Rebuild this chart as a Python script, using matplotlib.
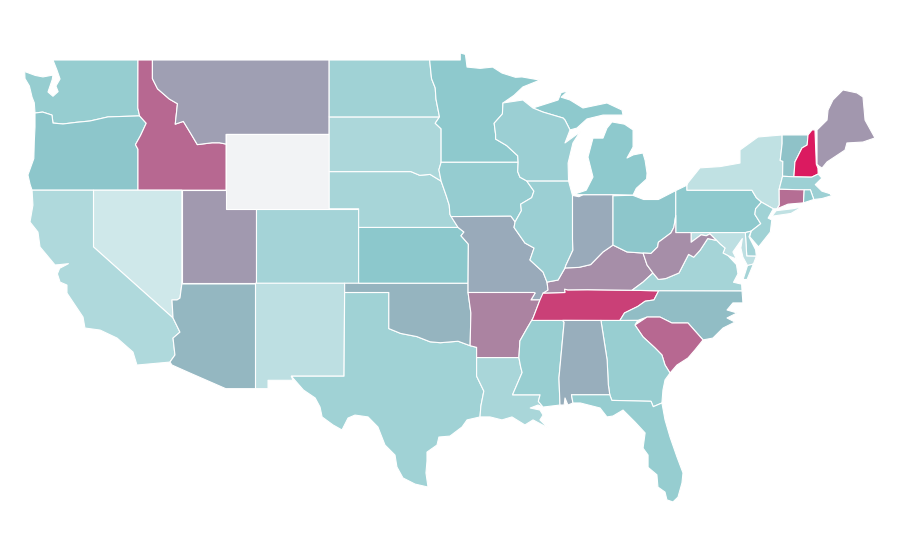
import matplotlib
matplotlib.use("Agg")
import matplotlib.pyplot as plt
from matplotlib.colors import LinearSegmentedColormap, Normalize
from matplotlib.patches import Polygon

# state values (WY has no data)
values = {
 "WA":34,"OR":41,"ID":73,"MT":54,"WY":None,"ND":28,"SD":21,"NE":24,"KS":40,"CO":26,"UT":56,"NV":0,"CA":19,
 "AZ":46,"NM":11,"TX":28,"OK":47,"MN":39,"IA":35,"MO":50,"AR":64,"LA":23,"WI":31,"IL":31,"IN":50,"MI":39,
 "OH":41,"KY":60,"TN":87,"MS":33,"AL":49,"GA":33,"FL":34,"SC":73,"NC":44,"VA":25,"WV":60,"PA":39,"NY":9,
 "VT":42,"NH":100,"ME":57,"MA":30,"CT":71,"RI":40,"NJ":28,"DE":27,"MD":11,
}
scale_stops = [(0.0,"#CFE8EA"),(0.4,"#8CC8CC"),(1.0,"#DB1A60")]
missing_color = "#F2F3F5"

# outlines, (lon, lat); some states have several parts
outlines = {
"WA":[[(-122.8,49),(-117.03,49),(-117.04,46.42),(-116.92,45.995),(-119.07,45.94),(-120.29,45.72),(-121.2,45.65),(-122.12,45.56),(-122.8,45.61),(-122.87,46.04),(-123.5,46.2),(-124.02,46.15),(-124.07,46.7),(-124.22,47.0),(-124.4,47.6),(-124.7,48.0),(-124.72,48.38),(-124.0,48.17),(-123.48,48.09),(-122.8,48.19),(-122.85,47.95),(-123.14,47.28),(-122.8,47.05),(-122.45,47.3),(-122.6,47.6),(-122.32,47.98),(-122.53,48.46)]],
"OR":[[(-124.02,46.15),(-123.5,46.2),(-122.87,46.04),(-122.8,45.61),(-122.12,45.56),(-121.2,45.65),(-120.29,45.72),(-119.07,45.94),(-116.92,45.995),(-116.47,45.6),(-116.85,44.95),(-117.2,44.45),(-117.03,44.2),(-117.03,42),(-124.22,42),(-124.35,42.3),(-124.5,42.82),(-124.1,43.7),(-124.07,44.6),(-124.02,45.4)]],
"ID":[[(-117.03,49),(-116.05,49),(-116.05,48.0),(-115.7,47.45),(-114.9,46.9),(-114.35,46.65),(-114.5,45.55),(-113.95,45.7),(-113.45,45.05),(-113.0,44.45),(-112.0,44.55),(-111.5,44.55),(-111.05,44.48),(-111.05,42),(-117.03,42),(-117.03,44.2),(-117.2,44.45),(-116.85,44.95),(-116.47,45.6),(-116.92,45.995),(-117.04,46.42)]],
"MT":[[(-116.05,49),(-104.05,49),(-104.05,45),(-111.05,45),(-111.05,44.48),(-111.5,44.55),(-112.0,44.55),(-113.0,44.45),(-113.45,45.05),(-113.95,45.7),(-114.5,45.55),(-114.35,46.65),(-114.9,46.9),(-115.7,47.45),(-116.05,48.0)]],
"WY":[[(-111.05,45),(-104.05,45),(-104.05,41),(-111.05,41)]],
"UT":[[(-114.05,42),(-111.05,42),(-111.05,41),(-109.05,41),(-109.05,37),(-114.05,37)]],
"NV":[[(-120.05,42),(-114.05,42),(-114.05,36.96),(-114.18,36.2),(-114.38,36.1),(-114.72,36.1),(-114.65,35.13),(-120.05,38.95)]],
"CA":[[(-124.22,42),(-120.05,42),(-120.05,38.95),(-114.65,35.13),(-114.18,34.37),(-114.65,34.05),(-114.52,33.14),(-114.86,32.76),(-117.1,32.6),(-117.37,33.3),(-118.45,34.05),(-119.6,34.48),(-120.63,34.59),(-120.76,35.18),(-121.85,36.47),(-121.85,36.9),(-122.32,37.06),(-122.5,37.5),(-122.35,37.8),(-121.75,38.05),(-122.35,38.0),(-122.66,37.98),(-123.68,38.95),(-123.82,39.75),(-124.36,40.29),(-124.16,41.2)]],
"AZ":[[(-114.05,36.96),(-109.05,36.96),(-109.05,31.33),(-111.07,31.33),(-113.5,32.17),(-114.72,32.6),(-114.86,32.76),(-114.52,33.14),(-114.65,34.05),(-114.18,34.37),(-114.65,35.13),(-114.72,36.1),(-114.38,36.1),(-114.18,36.2)]],
"CO":[[(-109.05,41),(-102.05,41),(-102.05,37),(-109.05,37)]],
"NM":[[(-109.05,37),(-103.0,37),(-103.04,32),(-106.62,32),(-106.5,31.78),(-108.2,31.78),(-108.2,31.33),(-109.05,31.33)]],
"TX":[[(-103.0,36.5),(-100,36.5),(-100,34.56),(-99.2,34.3),(-98.1,34.13),(-97.2,33.85),(-96.5,33.8),(-95.3,33.88),(-94.48,33.64),(-94.04,33.55),(-94.04,33.0),(-94.04,32.0),(-93.55,31.2),(-93.75,30.4),(-93.81,29.81),(-94.69,29.65),(-95.03,29.27),(-95.85,28.78),(-96.6,28.73),(-96.73,28.3),(-97.41,27.92),(-97.41,27.44),(-97.48,26.8),(-97.34,26.04),(-98.22,26.2),(-99.04,26.53),(-99.45,27.12),(-99.58,27.76),(-100.26,28.3),(-100.74,29.27),(-101.41,29.81),(-102.3,29.91),(-102.77,29.75),(-103.18,29.11),(-103.79,29.38),(-104.53,29.81),(-104.67,30.34),(-105.0,30.83),(-105.8,31.26),(-106.57,31.96),(-106.62,32),(-103.04,32)]],
"OK":[[(-103,37),(-94.62,37),(-94.62,36.5),(-94.43,35.4),(-94.48,33.64),(-95.3,33.88),(-96.5,33.8),(-97.2,33.85),(-98.1,34.13),(-99.2,34.3),(-100,34.56),(-100,36.5),(-103,36.5)]],
"KS":[[(-102.05,40),(-95.3,40),(-94.9,39.75),(-95.1,39.55),(-94.6,39.1),(-94.62,37),(-102.05,37)]],
"NE":[[(-104.05,43),(-98.5,43),(-97.9,42.8),(-97.2,42.85),(-96.45,42.49),(-96.1,41.7),(-95.9,41.2),(-95.85,40.7),(-95.3,40),(-102.05,40),(-102.05,41),(-104.05,41)]],
"SD":[[(-104.05,45.94),(-96.56,45.94),(-96.85,45.6),(-96.45,45.3),(-96.45,43.5),(-96.6,43.1),(-96.45,42.49),(-97.2,42.85),(-97.9,42.8),(-98.5,43),(-104.05,43)]],
"ND":[[(-104.05,49),(-97.23,49),(-97.1,48),(-96.85,47.5),(-96.8,46.9),(-96.56,45.94),(-104.05,45.94)]],
"MN":[[(-97.23,49),(-95.15,49),(-95.15,49.38),(-94.8,49.3),(-94.69,48.62),(-93.8,48.55),(-92.95,48.62),(-92.32,48.3),(-91.4,48.07),(-90.96,48.09),(-89.74,47.92),(-90.9,47.55),(-91.5,47.1),(-92.25,46.69),(-92.29,46.1),(-92.85,45.6),(-92.75,45.0),(-92.75,44.75),(-92.0,44.4),(-91.25,43.85),(-91.22,43.5),(-96.45,43.5),(-96.45,45.3),(-96.85,45.6),(-96.56,45.94),(-96.8,46.9),(-96.85,47.5),(-97.1,48)]],
"IA":[[(-96.45,43.5),(-91.22,43.5),(-91.25,43.0),(-91.1,42.7),(-90.64,42.5),(-90.15,41.95),(-90.3,41.6),(-91.05,41.25),(-91.0,40.9),(-91.43,40.29),(-91.72,40.6),(-95.77,40.58),(-95.85,40.7),(-95.9,41.2),(-96.1,41.7),(-96.45,42.49),(-96.6,43.1)]],
"MO":[[(-95.77,40.58),(-91.72,40.6),(-91.43,40.29),(-91.5,40.0),(-90.76,39.16),(-90.14,38.89),(-90.42,38.25),(-89.53,37.6),(-89.26,37.06),(-89.19,36.63),(-89.74,36.1),(-90.35,36.1),(-90.07,36.47),(-90.15,36.5),(-94.62,36.5),(-94.62,37),(-94.6,39.1),(-95.1,39.55),(-94.9,39.75),(-95.3,40)]],
"AR":[[(-94.62,36.5),(-90.15,36.5),(-90.07,36.47),(-90.35,36.1),(-89.74,36.1),(-90.21,35.13),(-90.3,35.0),(-90.6,34.6),(-91.1,33.9),(-91.17,33.0),(-94.04,33.0),(-94.04,33.55),(-94.48,33.64),(-94.43,35.4)]],
"LA":[[(-94.04,33),(-91.17,33),(-91.05,32.5),(-90.95,32.2),(-91.6,31.0),(-89.73,31.0),(-89.85,30.65),(-89.53,30.34),(-89.87,30.45),(-90.4,30.29),(-89.74,30.18),(-89.53,29.91),(-89.74,29.65),(-89.19,29.22),(-90.21,29.65),(-90.76,29.38),(-91.64,29.81),(-92.32,29.65),(-93.13,29.81),(-93.81,29.81),(-93.75,30.4),(-93.55,31.2),(-94.04,32)]],
"MS":[[(-91.17,33),(-91.1,33.9),(-90.6,34.6),(-90.3,35),(-88.2,35),(-88.1,34.9),(-88.45,31.9),(-88.38,30.45),(-89.53,30.34),(-89.85,30.65),(-89.73,31.0),(-91.6,31.0),(-90.95,32.2),(-91.05,32.5)]],
"TN":[[(-89.53,36.47),(-88.05,36.5),(-88.07,36.68),(-87.85,36.64),(-86.5,36.65),(-83.49,36.62),(-81.68,36.59),(-82.0,36.1),(-82.6,36.03),(-83.1,35.75),(-84.0,35.4),(-84.32,34.99),(-88.2,35),(-90.3,35),(-90.21,35.13),(-89.74,36.1)]],
"KY":[[(-89.19,36.63),(-89.26,37.06),(-88.51,37.17),(-88.04,37.82),(-87.1,37.85),(-86.3,38.0),(-85.46,38.68),(-84.78,39.05),(-83.83,38.68),(-82.74,38.62),(-82.47,37.98),(-82.07,37.55),(-82.74,37.06),(-83.49,36.62),(-86.5,36.65),(-87.85,36.64),(-88.07,36.68),(-88.05,36.5),(-89.53,36.47)]],
"IL":[[(-90.64,42.5),(-87.8,42.5),(-87.53,41.72),(-87.53,39.35),(-87.5,38.78),(-87.97,37.98),(-88.04,37.82),(-88.51,37.17),(-89.26,37.06),(-89.53,37.6),(-90.42,38.25),(-90.14,38.89),(-90.76,39.16),(-91.5,40),(-91.43,40.29),(-91.0,40.9),(-91.05,41.25),(-90.3,41.6),(-90.15,41.95)]],
"IN":[[(-87.53,41.72),(-87.1,41.65),(-86.8,41.76),(-84.78,41.76),(-84.78,39.05),(-85.46,38.68),(-86.3,38.0),(-87.1,37.85),(-88.04,37.82),(-87.97,37.98),(-87.5,38.78),(-87.53,39.35)]],
"OH":[[(-84.78,41.7),(-83.45,41.73),(-82.7,41.5),(-81.7,41.5),(-80.52,41.98),(-80.52,40.64),(-80.65,40.0),(-80.85,39.7),(-81.7,39.2),(-81.75,38.95),(-82.2,38.6),(-82.74,38.62),(-83.83,38.68),(-84.78,39.05)]],
"MI":[[(-87.5,41.76),(-84.78,41.76),(-83.42,41.74),(-83.2,42.1),(-82.5,42.6),(-82.47,42.92),(-82.6,43.6),(-82.75,44.0),(-83.4,43.9),(-83.83,43.73),(-83.42,44.32),(-83.42,45.24),(-84.0,45.55),(-84.85,45.67),(-85.19,45.34),(-85.46,44.8),(-86.14,44.8),(-86.48,43.78),(-86.14,42.71),(-86.6,42.0)],
      [(-90.22,46.42),(-89.1,46.7),(-88.51,46.85),(-88.3,47.25),(-87.84,47.33),(-88.3,47.0),(-87.7,46.85),(-86.82,46.42),(-85.19,46.69),(-84.17,46.31),(-84.1,46.04),(-85.46,46.04),(-86.55,45.83),(-87.23,45.34),(-87.7,45.24),(-88.04,45.77),(-88.17,45.88),(-89.53,46.2)]],
"WI":[[(-92.25,46.69),(-90.9,46.85),(-90.22,46.42),(-89.53,46.2),(-88.17,45.88),(-88.04,45.77),(-87.7,45.24),(-88.04,44.54),(-87.02,45.13),(-87.5,44.54),(-87.83,43.46),(-87.8,42.5),(-90.64,42.5),(-91.1,42.7),(-91.25,43.0),(-91.22,43.5),(-91.25,43.85),(-92,44.4),(-92.75,44.75),(-92.75,45),(-92.85,45.6),(-92.29,46.1)]],
"PA":[[(-80.52,41.98),(-79.76,42.27),(-79.76,42),(-75.35,42),(-75.05,41.6),(-74.7,41.36),(-75.1,41.0),(-75.15,40.7),(-74.75,40.2),(-75.4,39.8),(-75.8,39.72),(-80.52,39.72),(-80.52,40.64)]],
"NY":[[(-79.76,42.27),(-79.7,42.39),(-78.88,43.2),(-77.5,43.27),(-76.16,43.46),(-76.16,44.16),(-74.94,44.86),(-73.3,44.97),(-73.3,44.5),(-73.43,43.6),(-73.25,43.55),(-73.27,42.75),(-73.5,42.05),(-73.49,41.2),(-73.65,41.0),(-73.9,41.0),(-74.7,41.36),(-75.05,41.6),(-75.35,42),(-79.76,42)],
      [(-74.0,40.6),(-73.7,40.9),(-72.6,41.0),(-71.95,41.1),(-72.7,40.75)]],
"NJ":[[(-74.7,41.36),(-73.9,41.0),(-74.25,40.5),(-74.0,40.4),(-74.1,39.75),(-74.9,38.95),(-75.5,39.5),(-75.4,39.8),(-74.75,40.2),(-75.15,40.7),(-75.1,41)]],
"VT":[[(-73.3,44.97),(-71.54,44.97),(-71.6,44.43),(-71.95,44.27),(-72.43,43.52),(-72.5,42.72),(-73.27,42.75),(-73.25,43.55),(-73.43,43.6),(-73.3,44.5)]],
"NH":[[(-71.54,44.97),(-71.27,45.24),(-71.07,45.24),(-70.98,43.4),(-70.87,43.19),(-70.85,42.87),(-71.3,42.7),(-72.5,42.72),(-72.43,43.52),(-71.95,44.27),(-71.6,44.43)]],
"ME":[[(-70.93,45.24),(-70.25,45.77),(-70.18,46.31),(-69.85,46.85),(-69.17,47.39),(-68.22,47.23),(-67.81,47.01),(-67.67,45.77),(-67.0,44.81),(-67.81,44.59),(-68.9,44.54),(-69.03,44.16),(-70.25,43.52),(-70.59,43.19),(-70.8,43.3),(-70.93,43.4)]],
"MA":[[(-73.5,42.05),(-73.27,42.75),(-72.5,42.72),(-71.3,42.7),(-70.85,42.87),(-70.6,42.65),(-71.05,42.3),(-70.6,41.95),(-70.0,41.8),(-70.2,42.07),(-69.95,41.7),(-70.6,41.55),(-71.15,41.5),(-71.38,42.02),(-71.8,42.02)]],
"CT":[[(-73.5,42.05),(-71.8,42.02),(-71.85,41.32),(-72.9,41.25),(-73.65,41.0),(-73.49,41.2)]],
"RI":[[(-71.8,42.02),(-71.38,42.02),(-71.15,41.5),(-71.85,41.32)]],
"DE":[[(-75.8,39.72),(-75.4,39.8),(-75.55,39.5),(-75.1,38.8),(-75.05,38.45),(-75.7,38.46)]],
"MD":[[(-79.48,39.72),(-75.8,39.72),(-75.7,38.46),(-75.05,38.45),(-75.25,38.03),(-75.65,37.95),(-75.96,38.4),(-76.1,38.9),(-76.0,39.4),(-76.16,39.22),(-76.64,38.68),(-76.4,38.3),(-76.97,38.48),(-77.31,38.62),(-77.18,38.89),(-77.5,39.1),(-77.75,39.3),(-78.2,39.65),(-78.45,39.55),(-78.8,39.6),(-79.48,39.2)]],
"VA":[[(-83.49,36.62),(-81.68,36.59),(-76.02,36.58),(-76.05,36.95),(-76.6,37.05),(-76.3,37.5),(-76.4,38.0),(-76.97,38.48),(-77.31,38.62),(-77.18,38.89),(-77.5,39.1),(-77.75,39.3),(-78.35,39.4),(-78.87,38.77),(-79.3,38.4),(-79.65,38.55),(-80.3,37.55),(-81.2,37.25),(-81.7,37.2),(-82.07,37.55),(-82.74,37.06)],
      [(-75.65,37.95),(-75.25,38.03),(-75.68,37.2),(-75.95,37.2)]],
"WV":[[(-80.52,40.64),(-80.52,39.72),(-79.48,39.72),(-79.48,39.2),(-78.8,39.6),(-78.45,39.55),(-78.2,39.65),(-77.75,39.3),(-78.35,39.4),(-78.87,38.77),(-79.3,38.4),(-79.65,38.55),(-80.3,37.55),(-81.2,37.25),(-81.7,37.2),(-82.07,37.55),(-82.47,37.98),(-82.74,38.62),(-82.2,38.6),(-81.75,38.95),(-81.7,39.2),(-80.85,39.7),(-80.65,40)]],
"NC":[[(-84.32,34.99),(-84.0,35.4),(-83.1,35.75),(-82.6,36.03),(-82,36.1),(-81.68,36.59),(-76.02,36.58),(-75.96,35.94),(-76.64,35.94),(-77.04,35.56),(-76.36,35.4),(-77.04,35.13),(-76.5,34.91),(-77.31,34.59),(-78.0,34.05),(-78.67,33.95),(-79.69,34.86),(-80.78,34.86),(-81.59,35.18),(-82.47,35.18),(-83.1,35.0)]],
"SC":[[(-83.29,34.75),(-82.47,35.18),(-81.59,35.18),(-80.78,34.86),(-79.69,34.86),(-78.67,33.95),(-79.22,33.41),(-79.69,32.98),(-80.44,32.6),(-80.91,32.17),(-81.25,32.6),(-81.46,33.14),(-81.93,33.52),(-82.74,34.11)]],
"GA":[[(-85.6,35),(-83.1,35),(-83.29,34.75),(-82.74,34.11),(-81.93,33.52),(-81.46,33.14),(-81.25,32.6),(-80.91,32.17),(-81.25,31.8),(-81.39,31.26),(-81.46,30.56),(-82.05,30.36),(-82.2,30.65),(-84.86,30.7),(-85.0,31.0),(-85.1,31.55),(-85.18,32.87)]],
"AL":[[(-88.2,35),(-85.6,35),(-85.18,32.87),(-85.1,31.55),(-85.0,31.0),(-87.6,31.0),(-87.5,30.56),(-87.84,30.45),(-88.04,30.83),(-88.1,30.45),(-88.38,30.45),(-88.45,31.9),(-88.1,34.9)]],
"FL":[[(-87.6,31),(-85,31),(-84.86,30.7),(-82.2,30.65),(-82.05,30.36),(-81.46,30.56),(-81.25,29.65),(-80.91,28.73),(-80.44,27.66),(-80.03,26.8),(-80.1,26.26),(-80.37,25.5),(-80.71,25.24),(-81.12,25.35),(-81.25,25.77),(-81.73,26.04),(-81.8,26.7),(-82.4,27.1),(-82.4,27.76),(-82.74,28.13),(-82.6,28.95),(-83.29,29.54),(-84.1,30.18),(-84.78,29.86),(-85.19,29.81),(-85.66,30.29),(-87.0,30.56),(-87.5,30.56)]],
}

cmap = LinearSegmentedColormap.from_list("scale", scale_stops)
norm = Normalize(0, 100)

fig = plt.figure(figsize=(9, 5.6), dpi=100)
ax = fig.add_axes([0, 0, 1, 1])
for state, parts in outlines.items():
    v = values[state]
    color = missing_color if v is None else cmap(norm(v))
    for part in parts:
        ax.add_patch(Polygon(part, closed=True, facecolor=color, edgecolor="white",
                             linewidth=0.8, joinstyle="round", gid=state))
ax.set_xlim(-126.397, -65.297)
ax.set_ylim(22.118, 52.226)
ax.axis("off")
fig.savefig("out.png", dpi=100, facecolor="white")
